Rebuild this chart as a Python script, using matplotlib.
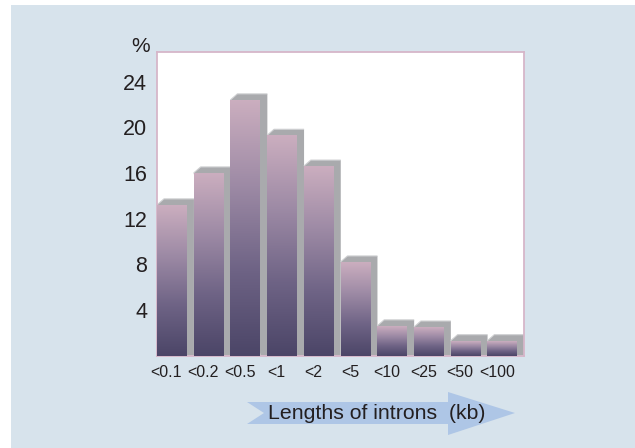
import numpy as np
import matplotlib
matplotlib.use("Agg")
import matplotlib.pyplot as plt
from matplotlib.colors import LinearSegmentedColormap
from matplotlib.patches import Polygon, Rectangle

plt.rcParams['font.family'] = ['Liberation Sans', 'DejaVu Sans']

categories = ["<0.1", "<0.2", "<0.5", "<1", "<2", "<5", "<10", "<25", "<50", "<100"]
percent = [13.2, 16.0, 22.4, 19.3, 16.6, 8.2, 2.6, 2.5, 1.3, 1.3]
y_ticks = [4, 8, 12, 16, 20, 24]

panel_color = "#d7e3ec"
spine_color = "#d6b6c9"
shadow_color = "#a9aaad"
bevel_color = "#cfd0d2"
arrow_color = "#aec6e6"
text_color = "#231f20"

bar_cmap = LinearSegmentedColormap.from_list(
    "bar", ["#4b4567", "#6e6385", "#9d8aa5", "#cbaebf"])
grad = np.linspace(0, 1, 256).reshape(-1, 1)

fig = plt.figure(figsize=(6.35, 4.48), dpi=100)
fig.patch.set_facecolor("white")
fig.patches.append(Rectangle((11 / 635, 0), 1, 1 - 5 / 448,
                             transform=fig.transFigure, facecolor=panel_color,
                             edgecolor="none", zorder=-10))

ax = fig.add_axes([157 / 635, 1 - 355.6 / 448, 367 / 635, (355.6 - 52) / 448])
ax.set_facecolor("white")

w = 0.817          # front face width
dx, dy = 0.19, 0.53  # depth offset of the 3-D side

for i, v in enumerate(percent):
    x0, x1 = i - w / 2, i + w / 2
    side = Polygon([(x0, v), (x0 + dx, v + dy), (x1 + dx, v + dy),
                    (x1 + dx, 0), (x1, 0)], closed=True,
                   facecolor=shadow_color, edgecolor="none", zorder=2)
    ax.add_patch(side)
    ax.plot([x0, x0 + dx, x1 + dx], [v, v + dy, v + dy], color=bevel_color,
            lw=0.8, zorder=2.5, solid_capstyle="butt")
    ax.imshow(grad, cmap=bar_cmap, origin="lower", aspect="auto",
              extent=(x0, x1, 0, v), zorder=3, interpolation="bilinear")

ax.set_xlim(-w / 2, 9 + 1 - w / 2)
ax.set_ylim(0, 26.6)

ax.set_yticks(y_ticks)
ax.set_yticklabels([str(t) for t in y_ticks], fontsize=15.5, color=text_color)
ax.set_xticks([i - 0.15 for i in range(len(categories))])
ax.set_xticklabels(categories, fontsize=11.5, color=text_color)
ax.tick_params(axis="both", length=0)
ax.tick_params(axis="y", pad=7)
ax.tick_params(axis="x", pad=7)

for s in ax.spines.values():
    s.set_color(spine_color)
    s.set_linewidth(1.3)

fig.text(150 / 635, 1 - 47 / 448, "%", fontsize=15, color=text_color,
         ha="right", va="center")

# direction arrow below the axis
def px(x, y):
    return (x / 635, 1 - y / 448)

arrow_pts = [px(247, 402), px(448, 402), px(448, 392), px(515, 413),
             px(448, 435), px(448, 424), px(247, 424), px(264, 413)]
fig.patches.append(Polygon(arrow_pts, closed=True, transform=fig.transFigure,
                           facecolor=arrow_color, edgecolor="none", zorder=1))
fig.text(377 / 635, 1 - 413 / 448, "Lengths of introns  (kb)", fontsize=15.3,
         color=text_color, ha="center", va="center", zorder=2)

fig.savefig("out.png", dpi=100)
